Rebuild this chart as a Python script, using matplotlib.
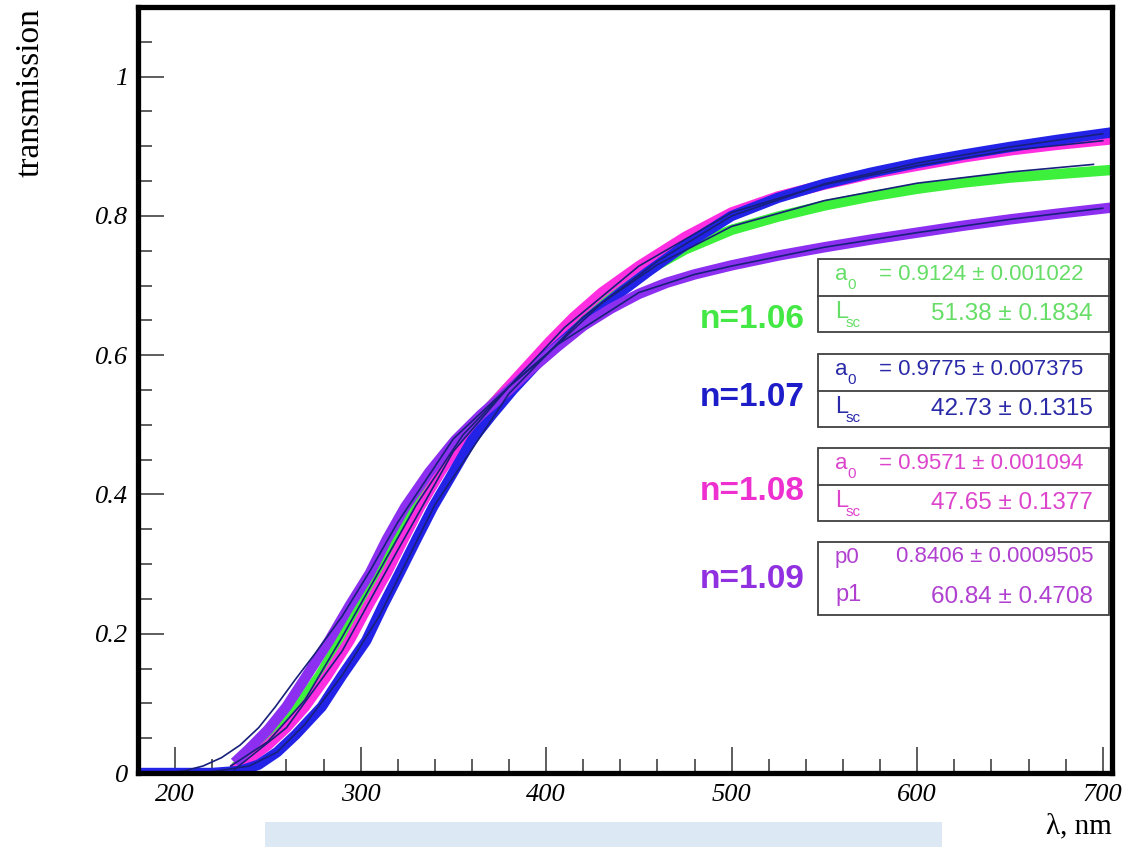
import matplotlib.pyplot as plt
from matplotlib.patches import Rectangle
from matplotlib.ticker import MultipleLocator

W, H = 1143, 847

# measured transmission curves, wavelength in nm
lam_106 = [232, 240, 250, 258, 266, 278, 289, 300, 310, 319, 329, 341, 353, 366, 378, 390, 402, 415,
           430, 450, 475, 500, 525, 550, 575, 600, 625, 650, 675, 705]
tr_106 = [0.008, 0.022, 0.045, 0.068, 0.095, 0.14, 0.19, 0.24, 0.287, 0.335, 0.382, 0.432, 0.478, 0.515,
          0.55, 0.582, 0.612, 0.645, 0.678, 0.715, 0.752, 0.78, 0.799, 0.815, 0.828, 0.839, 0.848, 0.855,
          0.86, 0.866]

lam_107 = [180, 200, 220, 235, 245, 255, 265, 279, 290, 303, 312, 321, 330, 339, 350, 360, 371, 382, 396,
           411, 425, 440, 455, 475, 500, 525, 550, 575, 600, 625, 650, 675, 705]
tr_107 = [0.0, 0.0, 0.0, 0.003, 0.012, 0.03, 0.055, 0.095, 0.14, 0.19, 0.24, 0.287, 0.335, 0.382, 0.432,
          0.478, 0.515, 0.55, 0.59, 0.625, 0.658, 0.69, 0.72, 0.758, 0.8, 0.826, 0.846, 0.862, 0.876,
          0.888, 0.899, 0.909, 0.92]

lam_108 = [231, 240, 250, 260, 270, 282, 294, 304, 314, 323, 332, 343, 355, 366, 378, 390, 402, 415, 430,
           450, 475, 500, 525, 550, 575, 600, 625, 650, 675, 705]
tr_108 = [0.005, 0.02, 0.04, 0.065, 0.095, 0.14, 0.19, 0.24, 0.287, 0.335, 0.382, 0.432, 0.478, 0.515,
          0.55, 0.585, 0.62, 0.655, 0.69, 0.728, 0.77, 0.805, 0.828, 0.845, 0.86, 0.872, 0.884, 0.894,
          0.902, 0.91]

lam_109 = [232, 240, 250, 260, 271, 283, 294, 305, 314, 324, 337, 351, 365, 380, 392, 406, 420, 435, 450,
           465, 480, 500, 525, 550, 575, 600, 625, 650, 675, 705]
tr_109 = [0.015, 0.035, 0.062, 0.095, 0.14, 0.19, 0.24, 0.287, 0.335, 0.382, 0.432, 0.478, 0.515, 0.55,
          0.58, 0.612, 0.642, 0.667, 0.688, 0.704, 0.716, 0.729, 0.743, 0.755, 0.766, 0.776, 0.786,
          0.795, 0.803, 0.812]

# fitted curves
fit_lam_106 = [230, 250, 270, 290, 310, 330, 355, 380, 400, 430, 460, 500, 550, 600, 650, 695]
fit_tr_106 = [0.01, 0.045, 0.105, 0.195, 0.29, 0.385, 0.485, 0.555, 0.6, 0.675, 0.73, 0.785, 0.822,
              0.847, 0.863, 0.874]
fit_lam_107 = [200, 220, 240, 255, 270, 290, 310, 340, 380, 420, 460, 500, 550, 600, 650, 700]
fit_tr_107 = [0.0, 0.002, 0.01, 0.03, 0.07, 0.14, 0.225, 0.385, 0.545, 0.655, 0.735, 0.8, 0.846, 0.876,
              0.899, 0.918]
fit_lam_108 = [232, 260, 290, 320, 350, 380, 410, 450, 500, 550, 600, 650, 700]
fit_tr_108 = [0.005, 0.065, 0.175, 0.32, 0.462, 0.555, 0.64, 0.728, 0.805, 0.845, 0.872, 0.894, 0.908]
fit_lam_109 = [195, 205, 215, 225, 235, 245, 254, 265, 275, 290, 305, 320, 350, 380, 406, 450, 480, 500,
               550, 600, 650, 700]
fit_tr_109 = [0.0, 0.003, 0.01, 0.022, 0.04, 0.065, 0.095, 0.135, 0.17, 0.225, 0.29, 0.36, 0.48, 0.555,
              0.615, 0.69, 0.716, 0.728, 0.755, 0.776, 0.795, 0.811]

labels = ['n=1.06', 'n=1.07', 'n=1.08', 'n=1.09']
data_colors = ['#3cf03c', '#2323e8', '#ff2ee0', '#8c2ff0']
label_colors = ['#44e844', '#1c1cc8', '#ee30d0', '#9030e0']
stat_colors = ['#66dd66', '#2a2aa8', '#dd44cc', '#b040d0']
par_names = [('a', '0', 'L', 'sc'), ('a', '0', 'L', 'sc'), ('a', '0', 'L', 'sc'), ('p0', '', 'p1', '')]
par_values = [('= 0.9124 \u00b1 0.001022', '51.38 \u00b1 0.1834'),
              ('= 0.9775 \u00b1 0.007375', '42.73 \u00b1 0.1315'),
              ('= 0.9571 \u00b1 0.001094', '47.65 \u00b1 0.1377'),
              ('0.8406 \u00b1 0.0009505', '60.84 \u00b1 0.4708')]

serif = ['Liberation Serif', 'DejaVu Serif']
sans = ['Liberation Sans', 'DejaVu Sans']

fig = plt.figure(figsize=(W / 100, H / 100), dpi=100)
ax = fig.add_axes([138 / W, 1 - 773 / H, (1112 - 138) / W, (773 - 7) / H])
ax.set_xlim(180, 705)
ax.set_ylim(0, 1.1)

series = [(lam_106, tr_106), (lam_107, tr_107), (lam_108, tr_108), (lam_109, tr_109)]
for k in [0, 2, 1, 3]:
    lam, tr = series[k]
    ax.plot(lam, tr, color=data_colors[k], lw=7.5, solid_capstyle='butt',
            solid_joinstyle='round', zorder=2)

for lam, tr in [(fit_lam_106, fit_tr_106), (fit_lam_107, fit_tr_107),
                (fit_lam_108, fit_tr_108), (fit_lam_109, fit_tr_109)]:
    ax.plot(lam, tr, color='#17207a', lw=1.2, zorder=3)

for s in ax.spines.values():
    s.set_linewidth(3.8)
    s.set_zorder(5)

ax.xaxis.set_major_locator(MultipleLocator(100))
ax.xaxis.set_minor_locator(MultipleLocator(20))
ax.yaxis.set_major_locator(MultipleLocator(0.2))
ax.yaxis.set_minor_locator(MultipleLocator(0.05))
ax.tick_params(which='both', direction='in', color='#505050', width=1.3)
ax.tick_params(which='major', length=19)
ax.tick_params(which='minor', length=10)
ax.tick_params(axis='y', pad=7)
ax.tick_params(axis='x', pad=8)
ax.set_xticks([200, 300, 400, 500, 600, 700])
ax.set_xticklabels(['200', '300', '400', '500', '600', '700'])
ax.set_yticks([0, 0.2, 0.4, 0.6, 0.8, 1.0])
ax.set_yticklabels(['0', '0.2', '0.4', '0.6', '0.8', '1'])
for t in ax.get_xticklabels() + ax.get_yticklabels():
    t.set_family(serif)
    t.set_style('italic')
    t.set_fontsize(19)

fig.text(30 / W, 1 - 8 / H, 'transmission', rotation=90, ha='center', va='top',
         family=serif, fontsize=24)
fig.text(1112 / W, 1 - 826 / H, '\u03bb, nm', ha='right', va='center', family=serif, fontsize=21)


def fx(x):
    return x / W


def fy(y):
    return 1 - y / H


# fit parameter boxes
box_tops = [259, 354, 448, 542]
label_y = [319, 397, 491, 580]
for i in range(4):
    top = box_tops[i]
    fig.patches.append(Rectangle((fx(818), fy(top + 73)), (1109 - 818) / W, 73 / H,
                                 transform=fig.transFigure, facecolor='white',
                                 edgecolor='#404040', lw=1.3, zorder=6))
    if i < 3:
        fig.lines.append(plt.Line2D([fx(818), fx(1109)], [fy(top + 37), fy(top + 37)],
                                    transform=fig.transFigure, color='#404040', lw=1.3, zorder=7))
    c = stat_colors[i]
    n1, s1, n2, s2 = par_names[i]
    r1, r2 = top + 15, top + 55
    fig.text(fx(835), fy(r1), n1, color=c, family=sans, fontsize=16, ha='left', va='center',
             zorder=8)
    fig.text(fx(835), fy(r2 - 2), n2, color=c, family=sans, fontsize=17, ha='left', va='center',
             zorder=8)
    if s1:
        fig.text(fx(847), fy(r1 + 11), s1, color=c, family=sans, fontsize=11, ha='left',
                 va='center', zorder=8)
        fig.text(fx(846), fy(r2 + 9), s2, color=c, family=sans, fontsize=11, ha='left',
                 va='center', zorder=8)
        fig.text(fx(879), fy(r1), par_values[i][0], color=c, family=sans, fontsize=16,
                 ha='left', va='center', zorder=8)
    else:
        fig.text(fx(1093), fy(r1), par_values[i][0], color=c, family=sans, fontsize=16,
                 ha='right', va='center', zorder=8)
    fig.text(fx(1093), fy(r2), par_values[i][1], color=c, family=sans, fontsize=17.5,
             ha='right', va='center', zorder=8)
    fig.text(fx(805), fy(label_y[i]), labels[i], color=label_colors[i], family=sans,
             fontsize=24, fontweight='bold', ha='right', va='center', zorder=8)

# caption strip along the bottom edge
fig.patches.append(Rectangle((fx(265), 0), (942 - 265) / W, 25 / H, transform=fig.transFigure,
                             facecolor='#dde8f5', edgecolor='none', zorder=1))

fig.savefig('out.png', dpi=100)
